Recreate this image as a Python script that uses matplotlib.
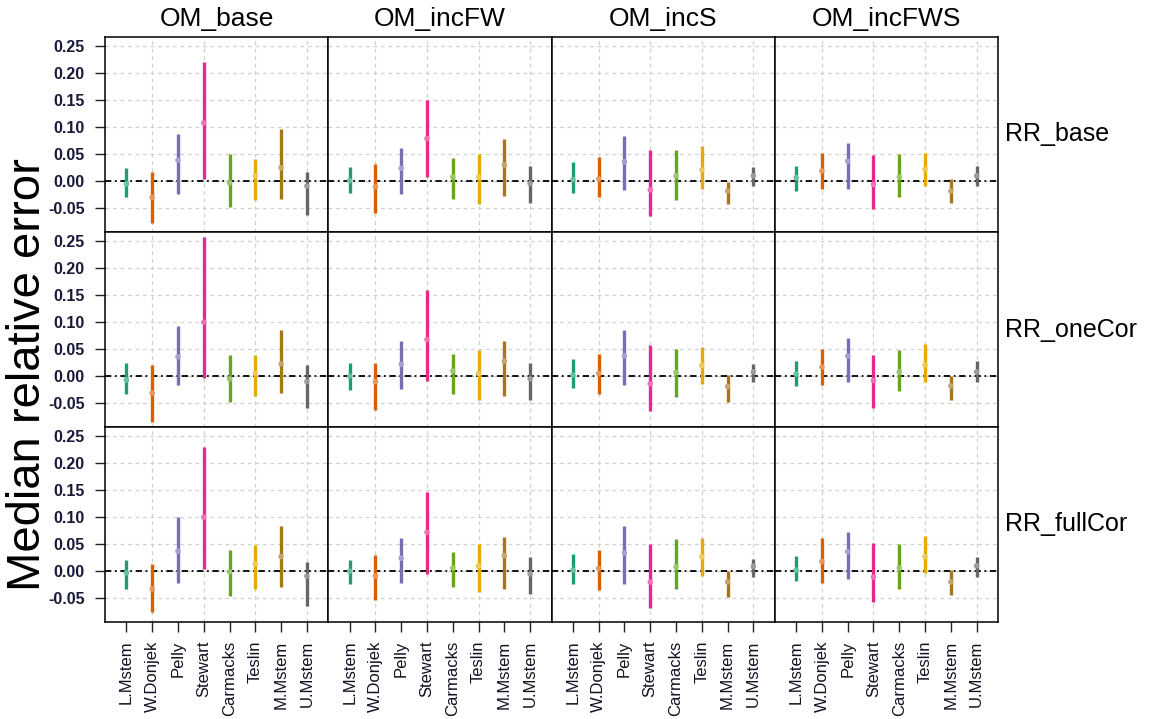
import matplotlib
matplotlib.use("Agg")
import matplotlib.pyplot as plt
from matplotlib.colors import to_rgb

plt.rcParams['font.family'] = ['Liberation Sans', 'DejaVu Sans']

stations = ["L.Mstem", "W.Donjek", "Pelly", "Stewart",
            "Carmacks", "Teslin", "M.Mstem", "U.Mstem"]
om_scenarios = ["OM_base", "OM_incFW", "OM_incS", "OM_incFWS"]
rr_scenarios = ["RR_base", "RR_oneCor", "RR_fullCor"]
station_colors = ["#1B9E77", "#D95F02", "#7570B3", "#E7298A",
                  "#66A61E", "#E6AB02", "#A6761D", "#666666"]
y_ticks = [-0.05, 0.00, 0.05, 0.10, 0.15, 0.20, 0.25]

# one inner list per OM scenario, values per station
lower_rr_base = [
    [-0.031, -0.078, -0.025, 0.003, -0.048, -0.036, -0.034, -0.064],
    [-0.023, -0.059, -0.025, 0.006, -0.033, -0.043, -0.028, -0.042],
    [-0.023, -0.031, -0.017, -0.065, -0.036, -0.015, -0.044, -0.010],
    [-0.020, -0.016, -0.015, -0.052, -0.030, -0.010, -0.042, -0.009],
]
median_rr_base = [
    [-0.006, -0.031, 0.038, 0.107, -0.004, 0.009, 0.024, -0.010],
    [0.000, -0.011, 0.023, 0.078, 0.007, 0.007, 0.029, -0.005],
    [0.002, 0.003, 0.035, -0.017, 0.009, 0.020, -0.019, 0.009],
    [0.006, 0.018, 0.036, -0.007, 0.007, 0.021, -0.019, 0.009],
]
upper_rr_base = [
    [0.023, 0.017, 0.086, 0.219, 0.049, 0.041, 0.096, 0.017],
    [0.025, 0.031, 0.060, 0.149, 0.042, 0.049, 0.078, 0.028],
    [0.034, 0.044, 0.082, 0.056, 0.056, 0.064, -0.002, 0.025],
    [0.028, 0.052, 0.069, 0.048, 0.049, 0.052, 0.004, 0.027],
]

lower_rr_onecor = [
    [-0.034, -0.086, -0.017, -0.005, -0.048, -0.037, -0.032, -0.060],
    [-0.027, -0.064, -0.025, -0.009, -0.033, -0.045, -0.037, -0.045],
    [-0.023, -0.033, -0.017, -0.066, -0.039, -0.015, -0.048, -0.012],
    [-0.019, -0.017, -0.012, -0.059, -0.028, -0.011, -0.045, -0.012],
]
median_rr_onecor = [
    [-0.008, -0.032, 0.035, 0.099, -0.006, 0.004, 0.022, -0.011],
    [-0.001, -0.011, 0.021, 0.067, 0.009, 0.004, 0.027, -0.006],
    [0.001, 0.004, 0.037, -0.015, 0.006, 0.019, -0.020, 0.007],
    [0.003, 0.016, 0.036, -0.009, 0.007, 0.020, -0.019, 0.007],
]
upper_rr_onecor = [
    [0.023, 0.020, 0.092, 0.256, 0.039, 0.039, 0.084, 0.019],
    [0.023, 0.023, 0.064, 0.158, 0.041, 0.048, 0.064, 0.024],
    [0.030, 0.041, 0.085, 0.056, 0.050, 0.053, 0.001, 0.022],
    [0.028, 0.050, 0.070, 0.039, 0.047, 0.059, -0.001, 0.028],
]

lower_rr_fullcor = [
    [-0.033, -0.076, -0.023, 0.004, -0.047, -0.033, -0.031, -0.066],
    [-0.025, -0.055, -0.023, -0.006, -0.031, -0.039, -0.033, -0.044],
    [-0.025, -0.036, -0.025, -0.069, -0.034, -0.009, -0.048, -0.011],
    [-0.020, -0.023, -0.015, -0.058, -0.033, -0.004, -0.045, -0.011],
]
median_rr_fullcor = [
    [-0.004, -0.034, 0.036, 0.099, -0.002, 0.013, 0.026, -0.010],
    [-0.001, -0.010, 0.023, 0.071, 0.005, 0.009, 0.028, -0.006],
    [0.001, 0.004, 0.033, -0.021, 0.007, 0.026, -0.021, 0.008],
    [0.001, 0.017, 0.035, -0.012, 0.005, 0.026, -0.021, 0.009],
]
upper_rr_fullcor = [
    [0.020, 0.012, 0.099, 0.229, 0.039, 0.047, 0.082, 0.017],
    [0.020, 0.029, 0.060, 0.145, 0.035, 0.050, 0.063, 0.025],
    [0.030, 0.039, 0.082, 0.050, 0.058, 0.061, -0.001, 0.022],
    [0.027, 0.061, 0.071, 0.052, 0.049, 0.064, 0.001, 0.025],
]

lower_by_row = [lower_rr_base, lower_rr_onecor, lower_rr_fullcor]
median_by_row = [median_rr_base, median_rr_onecor, median_rr_fullcor]
upper_by_row = [upper_rr_base, upper_rr_onecor, upper_rr_fullcor]


def lighten(color, amount):
    r, g, b = to_rgb(color)
    return (r + (1 - r) * amount, g + (1 - g) * amount, b + (1 - b) * amount)


W, H = 1149, 719
fig = plt.figure(figsize=(W / 100, H / 100), dpi=100)
left_px, right_px, top_px, bottom_px = 105, 998, 37, 622
gs = fig.add_gridspec(3, 4, left=left_px / W, right=right_px / W,
                      top=1 - top_px / H, bottom=1 - bottom_px / H,
                      wspace=0, hspace=0)

xpos = list(range(1, len(stations) + 1))
dot_colors = [lighten(c, 0.35) for c in station_colors]

for r in range(3):
    for c in range(4):
        ax = fig.add_subplot(gs[r, c])
        ax.set_xlim(0.17, len(stations) + 0.83)
        ax.set_ylim(-0.095, 0.266)
        for yv in y_ticks:
            ax.axhline(yv, color="#d0d0d0", lw=0.9, ls=(0, (3, 3)), zorder=0)
        for xv in xpos[1::2]:
            ax.axvline(xv, color="#d0d0d0", lw=0.9, ls=(0, (3, 3)), zorder=0)
        ax.axhline(0, color="black", lw=1.3, ls=(0, (3.5, 2, 1, 2)), zorder=1)

        lo = lower_by_row[r][c]
        md = median_by_row[r][c]
        hi = upper_by_row[r][c]
        ax.vlines(xpos, lo, hi, colors=station_colors, lw=2.4, zorder=2)
        ax.scatter(xpos, md, s=16, c=dot_colors, edgecolors="none", zorder=3)

        for sp in ax.spines.values():
            sp.set_color("black")
            sp.set_linewidth(1.1)

        if c == 0:
            ax.set_yticks(y_ticks)
            ax.set_yticklabels([f"{v:.2f}" for v in y_ticks], fontsize=11.5,
                               fontweight="bold", color="#1a1a3a")
            ax.tick_params(axis="y", direction="out", length=7.5, width=1,
                           colors="#222222", labelcolor="#1a1a3a", pad=7)
        else:
            ax.set_yticks([])
        if r == 2:
            ax.set_xticks(xpos)
            ax.set_xticklabels(stations, rotation=90, fontsize=12,
                               color="#111122")
            ax.tick_params(axis="x", direction="out", length=7.5, width=1,
                           colors="#222222", labelcolor="#111122", pad=6)
        else:
            ax.set_xticks([])

# column and row headers
col_edges = [left_px + i * (right_px - left_px) / 4 for i in range(5)]
for c, name in enumerate(om_scenarios):
    xc = (col_edges[c] + col_edges[c + 1]) / 2
    fig.text(xc / W, 1 - 26 / H, name, ha="center", va="baseline", fontsize=19)

row_edges = [top_px + i * (bottom_px - top_px) / 3 for i in range(4)]
for r, name in enumerate(rr_scenarios):
    yc = (row_edges[r] + row_edges[r + 1]) / 2
    fig.text(1005 / W, 1 - yc / H, name, ha="left", va="center", fontsize=18)

fig.text(28 / W, 1 - 375 / H, "Median relative error", rotation=90,
         ha="center", va="center", fontsize=34)

fig.savefig("out.png", dpi=100)
